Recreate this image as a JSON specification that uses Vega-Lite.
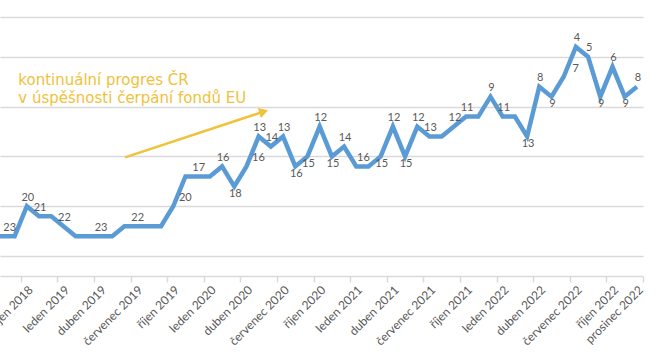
{
  "$schema": "https://vega.github.io/schema/vega-lite/v6.json",
  "width": 643,
  "height": 259,
  "autosize": {"type": "none"},
  "padding": {"top": 17, "left": 0, "right": 15, "bottom": 82},
  "background": "white",
  "config": {"view": {"stroke": null}, "axisX": {"labelOverlap": false, "labelFlush": false, "labelBound": false}},
  "datasets": {
    "poradi_cr": [
      {"k": -3, "mesic": "2018-07", "poradi": 23, "stitek": null, "poloha": null},
      {"k": -2, "mesic": "2018-08", "poradi": 23, "stitek": null, "poloha": null},
      {"k": -1, "mesic": "2018-09", "poradi": 23, "stitek": "23", "poloha": "vlevo"},
      {"k": 0, "mesic": "2018-10", "poradi": 20, "stitek": "20", "poloha": "nad"},
      {"k": 1, "mesic": "2018-11", "poradi": 21, "stitek": "21", "poloha": "nad"},
      {"k": 2, "mesic": "2018-12", "poradi": 21, "stitek": null, "poloha": null},
      {"k": 3, "mesic": "2019-01", "poradi": 22, "stitek": "22", "poloha": "nad"},
      {"k": 4, "mesic": "2019-02", "poradi": 23, "stitek": null, "poloha": null},
      {"k": 5, "mesic": "2019-03", "poradi": 23, "stitek": null, "poloha": null},
      {"k": 6, "mesic": "2019-04", "poradi": 23, "stitek": "23", "poloha": "nad"},
      {"k": 7, "mesic": "2019-05", "poradi": 23, "stitek": null, "poloha": null},
      {"k": 8, "mesic": "2019-06", "poradi": 22, "stitek": null, "poloha": null},
      {"k": 9, "mesic": "2019-07", "poradi": 22, "stitek": "22", "poloha": "nad"},
      {"k": 10, "mesic": "2019-08", "poradi": 22, "stitek": null, "poloha": null},
      {"k": 11, "mesic": "2019-09", "poradi": 22, "stitek": null, "poloha": null},
      {"k": 12, "mesic": "2019-10", "poradi": 20, "stitek": "20", "poloha": "vpravo"},
      {"k": 13, "mesic": "2019-11", "poradi": 17, "stitek": null, "poloha": null},
      {"k": 14, "mesic": "2019-12", "poradi": 17, "stitek": "17", "poloha": "nad"},
      {"k": 15, "mesic": "2020-01", "poradi": 17, "stitek": null, "poloha": null},
      {"k": 16, "mesic": "2020-02", "poradi": 16, "stitek": "16", "poloha": "nad"},
      {"k": 17, "mesic": "2020-03", "poradi": 18, "stitek": "18", "poloha": "pod"},
      {"k": 18, "mesic": "2020-04", "poradi": 16, "stitek": "16", "poloha": "vpravo"},
      {"k": 19, "mesic": "2020-05", "poradi": 13, "stitek": "13", "poloha": "nad"},
      {"k": 20, "mesic": "2020-06", "poradi": 14, "stitek": "14", "poloha": "nad"},
      {"k": 21, "mesic": "2020-07", "poradi": 13, "stitek": "13", "poloha": "nad"},
      {"k": 22, "mesic": "2020-08", "poradi": 16, "stitek": "16", "poloha": "pod"},
      {"k": 23, "mesic": "2020-09", "poradi": 15, "stitek": "15", "poloha": "pod"},
      {"k": 24, "mesic": "2020-10", "poradi": 12, "stitek": "12", "poloha": "nad"},
      {"k": 25, "mesic": "2020-11", "poradi": 15, "stitek": "15", "poloha": "pod"},
      {"k": 26, "mesic": "2020-12", "poradi": 14, "stitek": "14", "poloha": "nad"},
      {"k": 27, "mesic": "2021-01", "poradi": 16, "stitek": null, "poloha": null},
      {"k": 28, "mesic": "2021-02", "poradi": 16, "stitek": "16", "poloha": "vlevo"},
      {"k": 29, "mesic": "2021-03", "poradi": 15, "stitek": "15", "poloha": "pod"},
      {"k": 30, "mesic": "2021-04", "poradi": 12, "stitek": "12", "poloha": "nad"},
      {"k": 31, "mesic": "2021-05", "poradi": 15, "stitek": "15", "poloha": "pod"},
      {"k": 32, "mesic": "2021-06", "poradi": 12, "stitek": "12", "poloha": "nad"},
      {"k": 33, "mesic": "2021-07", "poradi": 13, "stitek": "13", "poloha": "nad"},
      {"k": 34, "mesic": "2021-08", "poradi": 13, "stitek": null, "poloha": null},
      {"k": 35, "mesic": "2021-09", "poradi": 12, "stitek": "12", "poloha": "nad"},
      {"k": 36, "mesic": "2021-10", "poradi": 11, "stitek": "11", "poloha": "nad"},
      {"k": 37, "mesic": "2021-11", "poradi": 11, "stitek": null, "poloha": null},
      {"k": 38, "mesic": "2021-12", "poradi": 9, "stitek": "9", "poloha": "nad"},
      {"k": 39, "mesic": "2022-01", "poradi": 11, "stitek": "11", "poloha": "nad"},
      {"k": 40, "mesic": "2022-02", "poradi": 11, "stitek": null, "poloha": null},
      {"k": 41, "mesic": "2022-03", "poradi": 13, "stitek": "13", "poloha": "pod"},
      {"k": 42, "mesic": "2022-04", "poradi": 8, "stitek": "8", "poloha": "nad"},
      {"k": 43, "mesic": "2022-05", "poradi": 9, "stitek": "9", "poloha": "pod"},
      {"k": 44, "mesic": "2022-06", "poradi": 7, "stitek": "7", "poloha": "vpravo"},
      {"k": 45, "mesic": "2022-07", "poradi": 4, "stitek": "4", "poloha": "nad"},
      {"k": 46, "mesic": "2022-08", "poradi": 5, "stitek": "5", "poloha": "nad"},
      {"k": 47, "mesic": "2022-09", "poradi": 9, "stitek": "9", "poloha": "pod"},
      {"k": 48, "mesic": "2022-10", "poradi": 6, "stitek": "6", "poloha": "nad"},
      {"k": 49, "mesic": "2022-11", "poradi": 9, "stitek": "9", "poloha": "pod"},
      {"k": 50, "mesic": "2022-12", "poradi": 8, "stitek": "8", "poloha": "nad"}
    ],
    "trend": [{"k": 8.05, "poradi": 15.09, "k_konec": 19.41, "poradi_konec": 10.5}],
    "hrot": [{"k": 19.41, "poradi": 10.5}],
    "popisek": [{"k": -0.7, "poradi": 7.83, "popis": "kontinuální progres ČR\nv úspěšnosti čerpání fondů EU"}]
  },
  "encoding": {
    "x": {
      "field": "k",
      "type": "quantitative",
      "scale": {"domain": [-2.2, 50.5], "nice": false, "zero": false},
      "axis": {
        "values": [-0.5, 2.5, 5.5, 8.5, 11.5, 14.5, 17.5, 20.5, 23.5, 26.5, 29.5, 32.5, 35.5, 38.5, 41.5, 44.5, 47.5, 50.5],
        "title": null,
        "grid": false,
        "domainColor": "#d9d9d9",
        "domainWidth": 1.5,
        "tickColor": "#d9d9d9",
        "tickWidth": 1.5,
        "tickSize": 6,
        "labelAngle": -45,
        "labelAlign": "right",
        "labelBaseline": "top",
        "labelPadding": 2,
        "labelFont": "Lato",
        "labelFontSize": 12,
        "labelColor": "#595959",
        "labelOverlap": false,
        "labelFlush": false,
        "labelBound": false,
        "labelOffset": {"condition": {"test": "datum.value > 50", "value": -6}, "value": 6},
        "labelExpr": "datum.value > 50 ? 'prosinec 2022' : ['leden','únor','březen','duben','květen','červen','červenec','srpen','září','říjen','listopad','prosinec'][(datum.value + 9.5) % 12] + ' ' + (2018 + floor((datum.value + 9.5) / 12))"
      }
    },
    "y": {
      "field": "poradi",
      "type": "quantitative",
      "scale": {"domain": [1, 27], "reverse": true, "nice": false, "zero": false},
      "axis": {
        "values": [1, 5, 10, 15, 20, 25],
        "labels": false,
        "ticks": false,
        "domain": false,
        "title": null,
        "gridColor": "#d9d9d9",
        "gridWidth": 1.5
      }
    }
  },
  "layer": [
    {
      "data": {"name": "poradi_cr"},
      "mark": {"type": "line", "color": "#5B9BD5", "strokeWidth": 4.5, "clip": true}
    },
    {
      "data": {"name": "poradi_cr"},
      "transform": [{"filter": "datum.poloha === 'nad'"}],
      "mark": {"type": "text", "font": "Lato", "fontSize": 11, "color": "#595959", "align": "center", "baseline": "middle", "dx": 1, "dy": -8.5},
      "encoding": {"text": {"field": "stitek"}}
    },
    {
      "data": {"name": "poradi_cr"},
      "transform": [{"filter": "datum.poloha === 'pod'"}],
      "mark": {"type": "text", "font": "Lato", "fontSize": 11, "color": "#595959", "align": "center", "baseline": "middle", "dx": 1, "dy": 7.5},
      "encoding": {"text": {"field": "stitek"}}
    },
    {
      "data": {"name": "poradi_cr"},
      "transform": [{"filter": "datum.poloha === 'vpravo'"}],
      "mark": {"type": "text", "font": "Lato", "fontSize": 11, "color": "#595959", "align": "center", "baseline": "middle", "dx": 12, "dy": -8},
      "encoding": {"text": {"field": "stitek"}}
    },
    {
      "data": {"name": "poradi_cr"},
      "transform": [{"filter": "datum.poloha === 'vlevo'"}],
      "mark": {"type": "text", "font": "Lato", "fontSize": 11, "color": "#595959", "align": "center", "baseline": "middle", "dx": -5, "dy": -8.5},
      "encoding": {"text": {"field": "stitek"}}
    },
    {
      "data": {"name": "trend"},
      "mark": {"type": "rule", "color": "#F0C13A", "strokeWidth": 2.5},
      "encoding": {
        "x2": {"field": "k_konec"},
        "y2": {"field": "poradi_konec"}
      }
    },
    {
      "data": {"name": "hrot"},
      "mark": {"type": "point", "shape": "triangle-right", "filled": true, "color": "#F0C13A", "size": 110, "angle": 341.7, "opacity": 1}
    },
    {
      "data": {"name": "popisek"},
      "mark": {"type": "text", "font": "DejaVu Sans", "fontSize": 15, "color": "#F0C13A", "align": "left", "baseline": "alphabetic", "lineBreak": "\n", "lineHeight": 17.7},
      "encoding": {"text": {"field": "popis"}}
    }
  ]
}
